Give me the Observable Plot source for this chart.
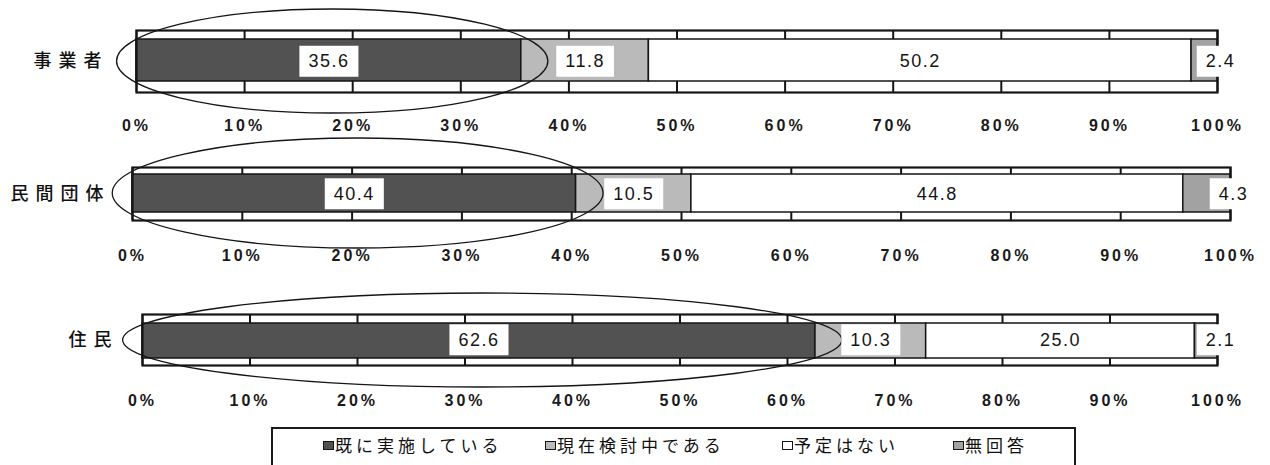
<!DOCTYPE html>
<html>
<head>
<meta charset="utf-8">
<script src="https://cdn.jsdelivr.net/npm/d3@7"></script>
<script src="https://cdn.jsdelivr.net/npm/@observablehq/plot@0.6"></script>
<style>
  html, body { margin: 0; padding: 0; background: #fff; }
  #wrap { position: relative; width: 1270px; height: 465px; overflow: hidden; background: #fff; }
  #wrap svg { position: absolute; left: 0; overflow: visible; }
  #wrap g[aria-label^="x-axis"] text { font-family: "Liberation Sans", Arial, sans-serif; font-size: 16px; font-weight: bold; letter-spacing: 3px; fill: #1a1a1a; }
  #wrap g[aria-label^="y-axis"] text { font-family: "Noto Sans CJK JP", sans-serif; font-size: 18px; font-weight: 500; letter-spacing: 7px; fill: #111; }
  #wrap g[aria-label="text"] text { letter-spacing: 1.5px; }
  #legend { position: absolute; left: 271px; top: 427px; width: 805px; height: 60px; border: 2px solid #1a1a1a; border-bottom: none; box-sizing: border-box; background: #fff; }
  .item { position: absolute; top: 6px; font-family: "Noto Sans CJK JP", sans-serif; font-size: 17px; line-height: 20px; letter-spacing: 4px; color: #111; white-space: nowrap; }
  .sw { display: inline-block; width: 9px; height: 7px; border: 1.5px solid #151515; margin-right: 1px; vertical-align: 2px; }
</style>
</head>
<body>
<div id="wrap"></div>
<script>
// ---- data ----
const categories = ["事業者", "民間団体", "住民"];
const responses = ["既に実施している", "現在検討中である", "予定はない", "無回答"];
const implemented = [35.6, 40.4, 62.6];
const considering = [11.8, 10.5, 10.3];
const noPlan = [50.2, 44.8, 25.0];
const noAnswer = [2.4, 4.3, 2.1];
const xTicks = [0, 10, 20, 30, 40, 50, 60, 70, 80, 90, 100];

// ---- styles / layout ----
const fills = ["#525252", "#bababa", "#ffffff", "#a2a2a2"];
const layouts = [
  {top: 0,   height: 132, mt: 30, mb: 40, ml: 136, mr: 53, barIn: [9, 11], ellIn: [-21, -21], tickPad: 27, yPad: 28},
  {top: 132, height: 151, mt: 35, mb: 63, ml: 132, mr: 40, barIn: [7, 8],  ellIn: [-29, -28], tickPad: 29, yPad: 22},
  {top: 283, height: 125, mt: 31, mb: 43, ml: 142, mr: 53, barIn: [9, 7],  ellIn: [-21, -22], tickPad: 29, yPad: 24}
];
const ellPadLeft = 1.8, ellPadRight = 2.5;

const series = [implemented, considering, noPlan, noAnswer];
const wrap = document.getElementById("wrap");

categories.forEach((cat, i) => {
  const L = layouts[i];
  const rows = responses.map((r, j) => ({cat, resp: r, value: series[j][i]}));
  let acc = 0;
  const inner = [], outer = [];
  rows.forEach((d, j) => {
    const lab = {cat, label: d.value.toFixed(1)};
    if (j < 3) { inner.push({...lab, x: acc + d.value / 2}); }
    else { outer.push({...lab, x: 100}); }
    acc += d.value;
  });
  const ell = [{cat, x1: -ellPadLeft, x2: implemented[i] + ellPadRight}];

  const svg = Plot.plot({
    width: 1270,
    height: L.height,
    marginTop: L.mt, marginBottom: L.mb, marginLeft: L.ml, marginRight: L.mr,
    style: {background: "transparent", overflow: "visible", fontFamily: "Liberation Sans, Arial, sans-serif"},
    x: {domain: [0, 100], ticks: xTicks, tickFormat: d => d + "%", tickSize: 0, tickPadding: L.tickPad, label: null},
    y: {domain: [cat], padding: 0, tickSize: 0, tickPadding: L.yPad, label: null},
    color: {domain: responses, range: fills},
    marks: [
      Plot.ruleX(xTicks, {stroke: "#151515", strokeWidth: 2}),
      Plot.barX(rows, Plot.stackX({x: "value", y: "cat", fill: "resp", order: null,
        stroke: "#151515", strokeWidth: 1.5, insetTop: L.barIn[0], insetBottom: L.barIn[1]})),
      Plot.frame({stroke: "#151515", strokeWidth: 2.2}),
      Plot.barX(ell, {x1: "x1", x2: "x2", y: "cat", fill: "none", stroke: "#151515", strokeWidth: 1.3,
        rx: 3000, ry: 3000, insetTop: L.ellIn[0], insetBottom: L.ellIn[1]}),
      Plot.text(inner, {x: "x", y: "cat", text: "label", fontSize: 18, fill: "#151515", fontFamily: "Liberation Sans, Arial, sans-serif"}),
      Plot.text(outer, {x: "x", y: "cat", text: "label", fontSize: 18, dx: 3, fill: "#151515", fontFamily: "Liberation Sans, Arial, sans-serif"})
    ]
  });
  svg.style.top = L.top + "px";
  wrap.appendChild(svg);

  // white boxes behind value labels
  const NS = "http://www.w3.org/2000/svg";
  svg.querySelectorAll('g[aria-label="text"] text').forEach(t => {
    const b = t.getBBox();
    const r = document.createElementNS(NS, "rect");
    r.setAttribute("x", b.x - 9);
    r.setAttribute("y", b.y - 5.5);
    r.setAttribute("width", b.width + 18);
    r.setAttribute("height", b.height + 11);
    r.setAttribute("fill", "#fff");
    const tr = t.getAttribute("transform");
    if (tr) r.setAttribute("transform", tr);
    t.parentNode.insertBefore(r, t);
  });
});

// ---- legend ----
const legend = document.createElement("div");
legend.id = "legend";
const itemX = [50, 272, 509, 680];
responses.forEach((r, j) => {
  const it = document.createElement("div");
  it.className = "item";
  it.style.left = itemX[j] + "px";
  const sw = document.createElement("span");
  sw.className = "sw";
  sw.style.background = fills[j];
  it.appendChild(sw);
  it.appendChild(document.createTextNode(r));
  legend.appendChild(it);
});
wrap.appendChild(legend);
</script>
</body>
</html>
